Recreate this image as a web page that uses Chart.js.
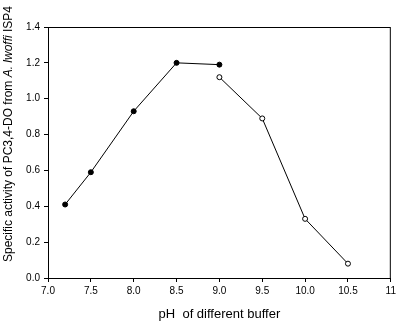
<!DOCTYPE html>
<html>
<head>
<meta charset="utf-8">
<script src="https://cdn.jsdelivr.net/npm/chart.js@4"></script>
<style>
  html, body { margin: 0; padding: 0; background: #fff; }
  #wrap { width: 399px; height: 324px; }
</style>
</head>
<body>
<div id="wrap"><canvas id="chart-ph"></canvas></div>
<script>
// pH profile of PC3,4-DO activity, two buffer series overlapping at pH 9.0
const phLow = [7.2, 7.5, 8.0, 8.5, 9.0];
const activityLow = [0.41, 0.59, 0.93, 1.20, 1.19];
const phHigh = [9.0, 9.5, 10.0, 10.5];
const activityHigh = [1.12, 0.89, 0.33, 0.08];

const FONT = 'Liberation Sans, Arial, sans-serif';

const toPoints = (xs, ys) => xs.map((x, i) => ({ x, y: ys[i] }));

// frame round the plot area plus the y title with the italic species name
const framePlugin = {
  id: 'frame',
  afterDraw(chart) {
    const { ctx, chartArea: a } = chart;
    ctx.save();
    ctx.strokeStyle = '#000';
    ctx.lineWidth = 1;
    ctx.strokeRect(a.left + 0.5, a.top + 0.5, a.right - a.left - 1, a.bottom - a.top);

    const parts = [
      { text: 'Specific activity of PC3,4-DO from ', style: '' },
      { text: 'A. lwoffi', style: 'italic ' },
      { text: ' ISP4', style: '' },
    ];
    ctx.translate(9, 134);
    ctx.rotate(-Math.PI / 2);
    ctx.fillStyle = '#000';
    ctx.textBaseline = 'middle';
    let total = 0;
    parts.forEach(p => {
      ctx.font = p.style + '12px ' + FONT;
      p.w = ctx.measureText(p.text).width;
      total += p.w;
    });
    let x = -total / 2;
    parts.forEach(p => {
      ctx.font = p.style + '12px ' + FONT;
      ctx.fillText(p.text, x, 0);
      x += p.w;
    });
    ctx.restore();
  },
};

new Chart(document.getElementById('chart-ph'), {
  type: 'scatter',
  data: {
    datasets: [
      {
        data: toPoints(phLow, activityLow),
        showLine: true,
        borderColor: '#000',
        borderWidth: 1,
        pointRadius: 2.5,
        pointBackgroundColor: '#000',
        pointBorderColor: '#000',
        pointBorderWidth: 1,
      },
      {
        data: toPoints(phHigh, activityHigh),
        showLine: true,
        borderColor: '#000',
        borderWidth: 1,
        pointRadius: 2.5,
        pointBackgroundColor: '#fff',
        pointBorderColor: '#000',
        pointBorderWidth: 1,
      },
    ],
  },
  options: {
    responsive: true,
    maintainAspectRatio: false,
    animation: false,
    layout: { padding: { top: 27, right: 3, left: 0, bottom: 0 } },
    scales: {
      x: {
        min: 7,
        max: 11,
        afterFit: (s) => { s.height = 46; },
        border: { display: true, color: '#000', width: 1 },
        grid: { drawOnChartArea: false, tickLength: 4, color: '#000' },
        ticks: {
          stepSize: 0.5,
          padding: 3,
          color: '#000',
          font: { family: FONT, size: 10 },
          maxRotation: 0,
          callback: (v) => (v === 11 ? '11' : Number(v).toFixed(1)),
        },
        title: {
          display: true,
          text: 'pH  of different buffer',
          color: '#000',
          font: { family: FONT, size: 13 },
          padding: { top: 0, bottom: 2 },
        },
      },
      y: {
        min: 0,
        max: 1.4,
        afterFit: (s) => { s.width = 48; },
        border: { display: true, color: '#000', width: 1 },
        grid: { drawOnChartArea: false, tickLength: 4, color: '#000' },
        ticks: {
          stepSize: 0.2,
          padding: 4,
          color: '#000',
          font: { family: FONT, size: 10 },
          callback: (v) => Number(v).toFixed(1),
        },
      },
    },
    plugins: {
      legend: { display: false },
      tooltip: { enabled: false },
    },
  },
  plugins: [framePlugin],
});
</script>
</body>
</html>
